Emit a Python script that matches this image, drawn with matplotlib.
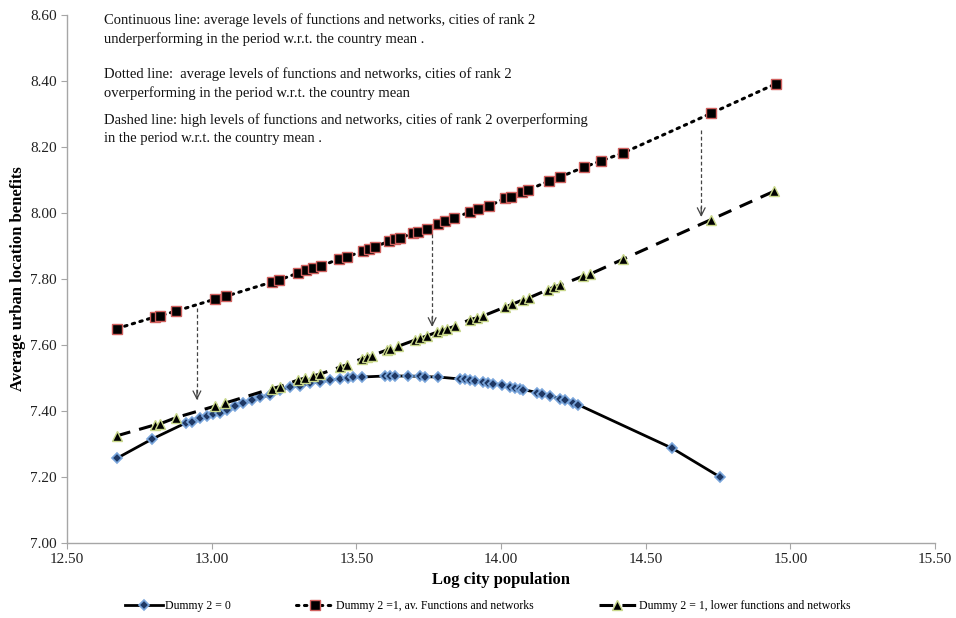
import matplotlib
matplotlib.use("Agg")
import matplotlib.pyplot as plt

plt.rcParams['font.family'] = ['Liberation Serif', 'DejaVu Serif']

# Series 1: Dummy 2 = 0
x_d0 = [12.673, 12.794, 12.911, 12.932, 12.960, 12.984, 13.005, 13.029, 13.053, 13.081,
        13.108, 13.140, 13.167, 13.202, 13.236, 13.271, 13.306, 13.340, 13.375, 13.409,
        13.444, 13.471, 13.489, 13.520, 13.599, 13.617, 13.634, 13.679, 13.720, 13.738,
        13.783, 13.859, 13.876, 13.893, 13.911, 13.938, 13.955, 13.973, 14.004, 14.032,
        14.049, 14.066, 14.076, 14.125, 14.142, 14.170, 14.204, 14.222, 14.249, 14.267,
        14.592, 14.757]
y_d0 = [7.257, 7.315, 7.364, 7.367, 7.379, 7.385, 7.391, 7.394, 7.403, 7.415,
        7.424, 7.433, 7.442, 7.448, 7.464, 7.473, 7.476, 7.485, 7.488, 7.494,
        7.497, 7.500, 7.502, 7.503, 7.506, 7.506, 7.506, 7.506, 7.505, 7.504,
        7.503, 7.497, 7.496, 7.494, 7.492, 7.487, 7.486, 7.483, 7.479, 7.474,
        7.471, 7.467, 7.465, 7.456, 7.452, 7.446, 7.437, 7.432, 7.424, 7.419,
        7.287, 7.200]

# Series 2: Dummy 2 = 1, av. functions and networks
x_av = [12.673, 12.804, 12.821, 12.877, 13.012, 13.050, 13.209, 13.233, 13.299, 13.326,
        13.350, 13.378, 13.440, 13.468, 13.523, 13.544, 13.565, 13.613, 13.634, 13.651,
        13.696, 13.713, 13.745, 13.783, 13.807, 13.838, 13.893, 13.921, 13.959, 14.014,
        14.035, 14.073, 14.094, 14.166, 14.204, 14.287, 14.346, 14.422, 14.726, 14.951]
y_av = [7.650, 7.685, 7.688, 7.703, 7.739, 7.748, 7.791, 7.797, 7.818, 7.827,
        7.833, 7.839, 7.861, 7.867, 7.885, 7.891, 7.897, 7.915, 7.921, 7.924,
        7.939, 7.942, 7.952, 7.967, 7.976, 7.985, 8.003, 8.012, 8.021, 8.045,
        8.048, 8.064, 8.070, 8.097, 8.109, 8.139, 8.158, 8.182, 8.302, 8.392]

# Series 3: Dummy 2 = 1, lower functions and networks
x_low = [12.673, 12.804, 12.821, 12.877, 13.012, 13.046, 13.209, 13.236, 13.299, 13.323,
         13.350, 13.375, 13.444, 13.468, 13.520, 13.537, 13.554, 13.606, 13.617, 13.644,
         13.703, 13.720, 13.745, 13.779, 13.796, 13.814, 13.841, 13.893, 13.917, 13.938,
         14.014, 14.038, 14.076, 14.097, 14.163, 14.184, 14.204, 14.284, 14.308, 14.422,
         14.726, 14.944]
y_low = [7.325, 7.358, 7.361, 7.380, 7.415, 7.424, 7.468, 7.474, 7.494, 7.500,
         7.506, 7.512, 7.533, 7.540, 7.559, 7.564, 7.568, 7.585, 7.588, 7.596,
         7.615, 7.620, 7.628, 7.639, 7.644, 7.649, 7.657, 7.677, 7.682, 7.688,
         7.715, 7.723, 7.737, 7.743, 7.768, 7.776, 7.781, 7.809, 7.815, 7.860,
         7.980, 8.066]

labels = ["Dummy 2 = 0", "Dummy 2 =1, av. Functions and networks",
          "Dummy 2 = 1, lower functions and networks"]

notes = ["Continuous line: average levels of functions and networks, cities of rank 2\n"
         "underperforming in the period w.r.t. the country mean .",
         "Dotted line:  average levels of functions and networks, cities of rank 2\n"
         "overperforming in the period w.r.t. the country mean",
         "Dashed line: high levels of functions and networks, cities of rank 2 overperforming\n"
         "in the period w.r.t. the country mean ."]

# arrows: x position, start y, end y
arrow_x = [12.949, 13.762, 14.692]
arrow_y0 = [7.712, 7.935, 8.252]
arrow_y1 = [7.433, 7.655, 7.988]

xticks = [12.5, 13.0, 13.5, 14.0, 14.5, 15.0, 15.5]
yticks = [7.0, 7.2, 7.4, 7.6, 7.8, 8.0, 8.2, 8.4, 8.6]

fig = plt.figure(figsize=(9.56, 6.18), dpi=100)
ax = fig.add_axes([67/956, 1-543/618, (935-67)/956, (543-15)/618])

ax.plot(x_d0, y_d0, color='black', lw=2.0, ls='-', marker='D', ms=5,
        mfc='#1f3864', mec='#7aa6dc', mew=1.2, label=labels[0], zorder=3)
ax.plot(x_av, y_av, color='black', lw=2.2, ls=(0, (0.8, 1.8)), dash_capstyle='round',
        marker='s', ms=7.5, mfc='black', mec='#d0605e', mew=1.0, label=labels[1], zorder=4)
ax.plot(x_low, y_low, color='black', lw=2.2, ls=(0, (4.5, 3)),
        marker='^', ms=7.5, mfc='black', mec='#c9d88a', mew=1.0, label=labels[2], zorder=5)

for xa, ya0, ya1 in zip(arrow_x, arrow_y0, arrow_y1):
    ax.plot([xa, xa], [ya0, ya1 + 0.003], color='#444444', lw=0.9, ls=(0, (3, 2)), zorder=6)
    ax.annotate('', xy=(xa, ya1), xytext=(xa, ya1 + 0.03),
                arrowprops=dict(arrowstyle='->', color='#444444', lw=0.9,
                                mutation_scale=14, shrinkA=0, shrinkB=0), zorder=6)

ax.set_xlim(12.5, 15.5)
ax.set_ylim(7.0, 8.6)
ax.set_xticks(xticks)
ax.set_yticks(yticks)
ax.set_xticklabels([f"{v:.2f}" for v in xticks])
ax.set_yticklabels([f"{v:.2f}" for v in yticks])
for s in ['top', 'right']:
    ax.spines[s].set_visible(False)
for s in ['left', 'bottom']:
    ax.spines[s].set_color('#a6a6a6')
    ax.spines[s].set_linewidth(1.0)
ax.tick_params(axis='both', colors='#a6a6a6', labelcolor='#222222', labelsize=11,
               length=4, direction='out')

ax.set_xlabel("Log city population", fontsize=12, fontweight='bold', labelpad=4)
ax.set_ylabel("Average urban location benefits", fontsize=12, fontweight='bold', labelpad=3)

for t, yy in zip(notes, [13, 67, 113]):
    fig.text(104/956, 1 - yy/618, t, fontsize=10.5, va='top', ha='left',
             linespacing=1.5, color='#111111')

fig.legend(loc='center', bbox_to_anchor=(0.51, 1 - 606/618), ncol=3, frameon=False,
           fontsize=8.5, handlelength=3.2, columnspacing=5.5, handletextpad=0.2)

fig.savefig("out.png", dpi=100, facecolor='white')
